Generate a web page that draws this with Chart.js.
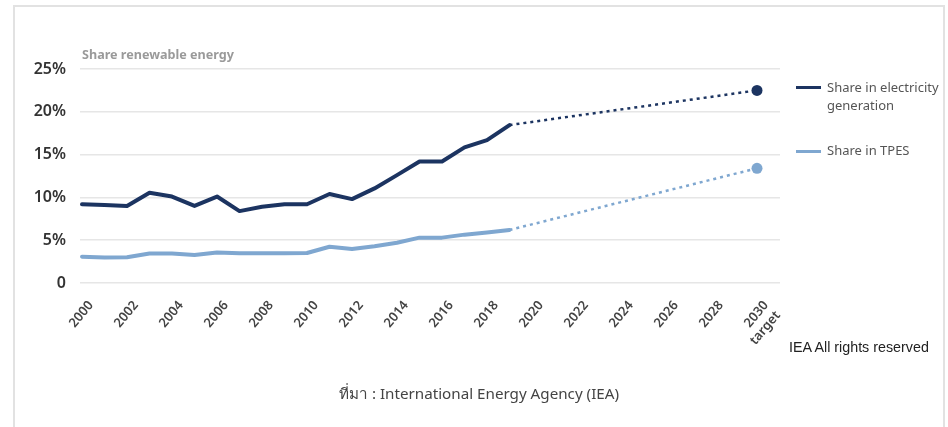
<!DOCTYPE html>
<html>
<head>
<meta charset="utf-8">
<script src="https://cdn.jsdelivr.net/npm/chart.js@4.4.1/dist/chart.umd.min.js"></script>
<style>
  html, body { margin: 0; padding: 0; background: #fff; }
  #wrap { position: relative; width: 948px; height: 427px; overflow: hidden; font-family: "Noto Sans", sans-serif; }
  #frame { position: absolute; left: 13px; top: 5px; width: 932px; height: 440px; border: 2px solid #e2e2e2; box-sizing: border-box; }
  canvas { position: absolute; left: 0; top: 0; }
  .t { position: absolute; white-space: nowrap; }
  #title { left: 82px; top: 46px; font-size: 12.6px; font-weight: 700; color: #9a9a9a; }
  .lg-line { position: absolute; left: 796px; width: 25px; height: 3px; }
  .lg-text { position: absolute; left: 827px; font-size: 13px; color: #555; line-height: 18px; }
  #rights { left: 789px; top: 339px; font-family: "Liberation Sans", Arial, sans-serif; font-size: 14.3px; color: #222; }
  #source { left: 0; width: 958px; text-align: center; top: 382px; font-size: 15.2px; color: #444; }
</style>
</head>
<body>
<div id="wrap">
  <div id="frame"></div>
  <canvas id="c" width="948" height="427"></canvas>
  <div class="t" id="title">Share renewable energy</div>
  <div class="lg-line" style="top:86px;background:#1c3461"></div>
  <div class="lg-text" style="top:78px">Share in electricity<br>generation</div>
  <div class="lg-line" style="top:150px;background:#7fa7d0"></div>
  <div class="lg-text" style="top:141px">Share in TPES</div>
  <div class="t" id="rights">IEA All rights reserved</div>
  <div class="t" id="source">ที่มา : International Energy Agency (IEA)</div>
</div>
<script>
// ---- data ----
const years = [2000,2001,2002,2003,2004,2005,2006,2007,2008,2009,2010,2011,2012,2013,2014,2015,2016,2017,2018,2019];
const elecShare = [9.2,9.1,9.0,10.55,10.1,9.0,10.1,8.4,8.9,9.2,9.2,10.4,9.8,11.05,12.6,14.2,14.2,15.85,16.7,18.45];
const tpesShare = [3.07,2.98,3.0,3.45,3.45,3.27,3.55,3.47,3.47,3.48,3.5,4.24,3.97,4.3,4.7,5.3,5.3,5.65,5.9,6.2];
const targetYear = 2030;
const elecTarget = 22.5;
const tpesTarget = 13.4;
const xTickYears = [2000,2002,2004,2006,2008,2010,2012,2014,2016,2018,2020,2022,2024,2026,2028,2030];
const xTickLabels = ['2000','2002','2004','2006','2008','2010','2012','2014','2016','2018','2020','2022','2024','2026','2028',['2030','target']];
const yTicks = [0,5,10,15,20,25];
const yTickLabels = ['0','5%','10%','15%','20%','25%'];

const dark = '#1c3461';
const light = '#7fa7d0';

const pts = (xs, ys) => xs.map((x, i) => ({ x: x, y: ys[i] }));
const lastYear = years[years.length - 1];

new Chart(document.getElementById('c'), {
  type: 'line',
  data: {
    datasets: [
      { label: 'Share in electricity generation', data: pts(years, elecShare), borderColor: dark, borderWidth: 4, pointRadius: 0, tension: 0, borderCapStyle: 'round', borderJoinStyle: 'round' },
      { label: 'Share in TPES', data: pts(years, tpesShare), borderColor: light, borderWidth: 4, pointRadius: 0, tension: 0, borderCapStyle: 'round', borderJoinStyle: 'round' },
      { label: 'elec proj', data: pts([lastYear, targetYear], [elecShare[elecShare.length-1], elecTarget]), borderColor: dark, backgroundColor: dark, borderWidth: 2.5, borderDash: [3,4], pointRadius: [0,5.5], pointBorderWidth: 0, pointBackgroundColor: dark },
      { label: 'tpes proj', data: pts([lastYear, targetYear], [tpesShare[tpesShare.length-1], tpesTarget]), borderColor: light, backgroundColor: light, borderWidth: 2.5, borderDash: [3,4], pointRadius: [0,5.5], pointBorderWidth: 0, pointBackgroundColor: light }
    ]
  },
  options: {
    responsive: false,
    animation: false,
    events: [],
    layout: { padding: { left: 0, right: 168, top: 69, bottom: 0 } },
    plugins: { legend: { display: false }, tooltip: { enabled: false }, title: { display: false } },
    scales: {
      x: {
        type: 'linear',
        min: 2000 - 2/22.5,
        max: 2000 - 2/22.5 + 700/22.5,
        grid: { display: false, drawTicks: false },
        border: { display: false },
        afterBuildTicks: (s) => { s.ticks = xTickYears.map(v => ({ value: v })); },
        afterFit: (s) => { s.height = 144; },
        ticks: {
          autoSkip: false,
          minRotation: 50, maxRotation: 50,
          padding: 15,
          labelOffset: 9,
          color: '#444',
          font: { family: 'Noto Sans', size: 13, weight: '600' },
          callback: (v) => { const i = xTickYears.indexOf(v); return i >= 0 ? xTickLabels[i] : null; }
        }
      },
      y: {
        min: 0, max: 25,
        grid: { color: '#e6e6e6', lineWidth: 1.5, drawTicks: false },
        border: { display: false },
        afterBuildTicks: (s) => { s.ticks = yTicks.map(v => ({ value: v })); },
        afterFit: (s) => { s.width = 80; },
        ticks: {
          padding: 14,
          color: '#333',
          font: { family: 'Noto Sans', size: 16, weight: '600' },
          callback: (v) => { const i = yTicks.indexOf(v); return i >= 0 ? yTickLabels[i] : ''; }
        }
      }
    }
  }
});
</script>
</body>
</html>
